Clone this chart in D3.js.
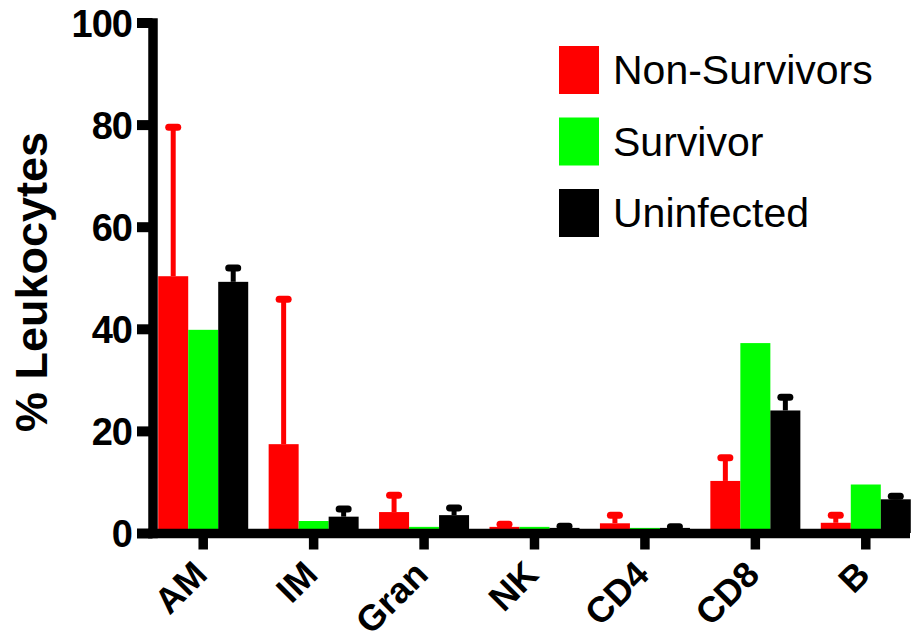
<!DOCTYPE html>
<html>
<head>
<meta charset="utf-8">
<script src="https://cdn.jsdelivr.net/npm/d3@7"></script>
<style>
  html, body { margin: 0; padding: 0; background: #fff; }
  svg { display: block; font-family: "Liberation Sans", Arial, sans-serif; }
</style>
</head>
<body>
<svg id="chart" width="913" height="642"></svg>
<script>
// Cell populations (% of leukocytes) by group
const categories = ["AM", "IM", "Gran", "NK", "CD4", "CD8", "B"];
const groups = ["Non-Survivors", "Survivor", "Uninfected"];
const colors = ["#ff0000", "#00ff00", "#000000"];

const nonSurvivorMean = [50.3, 17.4, 4.1, 1.2, 1.9, 10.2, 2.0];
const nonSurvivorErr  = [29.2, 28.4, 3.3, 0.5, 1.6, 4.55, 1.5];
const survivorMean    = [39.8, 2.35, 1.2, 1.2, 1.0, 37.2, 9.5];
const uninfectedMean  = [49.2, 3.2, 3.5, 1.0, 1.0, 24.0, 6.6];
const uninfectedErr   = [2.7, 1.5, 1.4, 0.3, 0.2, 2.6, 0.6];

const yTicks = [0, 20, 40, 60, 80, 100];
const yTitle = "% Leukocytes";

const means = [nonSurvivorMean, survivorMean, uninfectedMean];
const errs = [nonSurvivorErr, null, uninfectedErr];

const svg = d3.select("#chart");

const y = d3.scaleLinear().domain([0, 100]).range([533, 22.5]);
const x0 = d3.scaleBand().domain(categories).range([148, 921]).padding(0);
const groupWidth = 90;
const x1 = d3.scaleBand().domain(groups).range([0, groupWidth]).padding(0);

// Bars
groups.forEach((g, gi) => {
  svg.append("g")
    .selectAll("rect")
    .data(categories)
    .join("rect")
    .attr("x", c => x0(c) + (x0.bandwidth() - groupWidth) / 2 + x1(g))
    .attr("width", x1.bandwidth())
    .attr("y", (c, i) => y(means[gi][i]))
    .attr("height", (c, i) => y(0) - y(means[gi][i]))
    .attr("fill", colors[gi]);
});

// Upward error bars
groups.forEach((g, gi) => {
  if (!errs[gi]) return;
  const cx = c => x0(c) + (x0.bandwidth() - groupWidth) / 2 + x1(g) + x1.bandwidth() / 2;
  const eg = svg.append("g");
  eg.selectAll("line.stem")
    .data(categories)
    .join("line")
    .attr("class", "stem")
    .attr("x1", cx).attr("x2", cx)
    .attr("y1", (c, i) => y(means[gi][i]))
    .attr("y2", (c, i) => y(means[gi][i] + errs[gi][i]))
    .attr("stroke", colors[gi])
    .attr("stroke-width", 5);
  eg.selectAll("line.cap")
    .data(categories)
    .join("line")
    .attr("class", "cap")
    .attr("x1", c => cx(c) - 4.5).attr("x2", c => cx(c) + 4.5)
    .attr("y1", (c, i) => y(means[gi][i] + errs[gi][i]))
    .attr("y2", (c, i) => y(means[gi][i] + errs[gi][i]))
    .attr("stroke", colors[gi])
    .attr("stroke-width", 7)
    .attr("stroke-linecap", "round");
});

// Y axis
const yAxis = svg.append("g")
  .attr("transform", "translate(152.5,0)")
  .call(d3.axisLeft(y).tickValues(yTicks).tickSize(15.5).tickSizeOuter(0).tickPadding(5));
yAxis.select(".domain")
  .attr("stroke", "#000").attr("stroke-width", 9.5).attr("stroke-linecap", "square");
yAxis.selectAll(".tick line").attr("stroke", "#000").attr("stroke-width", 10);
yAxis.selectAll(".tick text")
  .attr("dy", "0.36em")
  .attr("fill", "#000")
  .style("font-size", "38px")
  .style("font-weight", "bold")
  .style("font-family", "'Liberation Sans', Arial, sans-serif")
  .style("letter-spacing", "-1px");

// X axis
const xAxis = svg.append("g")
  .attr("transform", "translate(0,533.5)")
  .call(d3.axisBottom(x0).tickSize(16).tickSizeOuter(0));
xAxis.select(".domain")
  .attr("d", "M148,0H910")
  .attr("stroke", "#000").attr("stroke-width", 9.5);
xAxis.selectAll(".tick line").attr("stroke", "#000").attr("stroke-width", 9.5);
xAxis.selectAll(".tick text")
  .attr("y", 0).attr("dy", 0)
  .attr("transform", "translate(6,43) rotate(-45)")
  .attr("fill", "#000")
  .style("text-anchor", "end")
  .style("font-size", "36px")
  .style("font-weight", "bold")
  .style("font-family", "'Liberation Sans', Arial, sans-serif");

// Y axis title
svg.append("text")
  .attr("transform", "translate(47,282) rotate(-90)")
  .attr("text-anchor", "middle")
  .style("font-size", "45px")
  .style("font-weight", "bold")
  .text(yTitle);

// Legend
const legend = svg.append("g").attr("transform", "translate(559,46)");
groups.forEach((g, gi) => {
  const row = legend.append("g").attr("transform", `translate(0,${gi * 71.5})`);
  row.append("rect").attr("width", 40).attr("height", 48).attr("fill", colors[gi]);
  row.append("text")
    .attr("x", 54).attr("y", 38)
    .style("font-size", "41px")
    .text(g);
});
</script>
</body>
</html>
